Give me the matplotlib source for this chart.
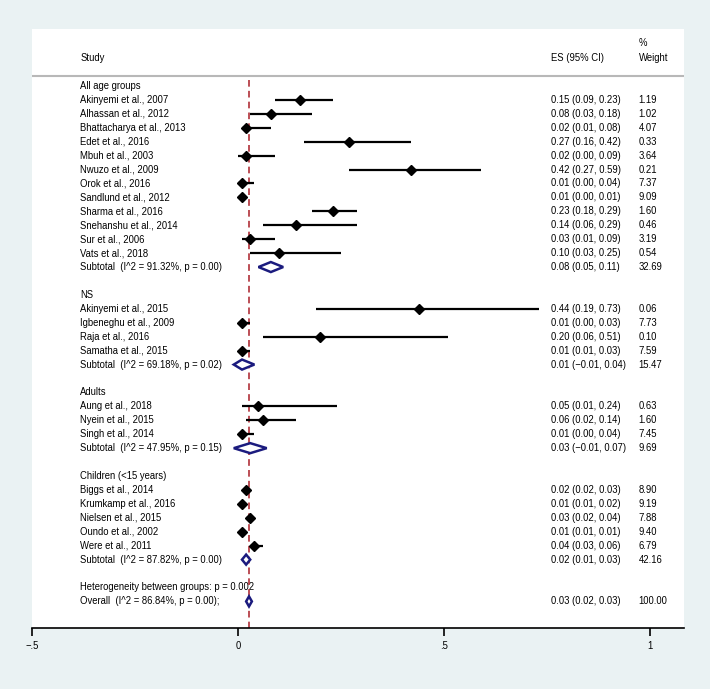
import matplotlib.pyplot as plt
from matplotlib.patches import Polygon

plt.rcParams['font.family'] = ['Liberation Sans', 'DejaVu Sans']

# group headings and the studies in each group
groups = ["All age groups", "NS", "Adults", "Children (<15 years)"]

studies = [
    ["Akinyemi et al., 2007", "Alhassan et al., 2012", "Bhattacharya et al., 2013",
     "Edet et al., 2016", "Mbuh et al., 2003", "Nwuzo et al., 2009", "Orok et al., 2016",
     "Sandlund et al., 2012", "Sharma et al., 2016", "Snehanshu et al., 2014",
     "Sur et al., 2006", "Vats et al., 2018"],
    ["Akinyemi et al., 2015", "Igbeneghu et al., 2009", "Raja et al., 2016",
     "Samatha et al., 2015"],
    ["Aung et al., 2018", "Nyein et al., 2015", "Singh et al., 2014"],
    ["Biggs et al., 2014", "Krumkamp et al., 2016", "Nielsen et al., 2015",
     "Oundo et al., 2002", "Were et al., 2011"],
]
es = [
    [0.15, 0.08, 0.02, 0.27, 0.02, 0.42, 0.01, 0.01, 0.23, 0.14, 0.03, 0.10],
    [0.44, 0.01, 0.20, 0.01],
    [0.05, 0.06, 0.01],
    [0.02, 0.01, 0.03, 0.01, 0.04],
]
lo = [
    [0.09, 0.03, 0.01, 0.16, 0.00, 0.27, 0.00, 0.00, 0.18, 0.06, 0.01, 0.03],
    [0.19, 0.00, 0.06, 0.01],
    [0.01, 0.02, 0.00],
    [0.02, 0.01, 0.02, 0.01, 0.03],
]
hi = [
    [0.23, 0.18, 0.08, 0.42, 0.09, 0.59, 0.04, 0.01, 0.29, 0.29, 0.09, 0.25],
    [0.73, 0.03, 0.51, 0.03],
    [0.24, 0.14, 0.04],
    [0.03, 0.02, 0.04, 0.01, 0.06],
]
weight = [
    [1.19, 1.02, 4.07, 0.33, 3.64, 0.21, 7.37, 9.09, 1.60, 0.46, 3.19, 0.54],
    [0.06, 7.73, 0.10, 7.59],
    [0.63, 1.60, 7.45],
    [8.90, 9.19, 7.88, 9.40, 6.79],
]

# subtotals per group
sub_es = [0.08, 0.01, 0.03, 0.02]
sub_lo = [0.05, -0.01, -0.01, 0.01]
sub_hi = [0.11, 0.04, 0.07, 0.03]
sub_weight = [32.69, 15.47, 9.69, 42.16]
sub_i2 = [91.32, 69.18, 47.95, 87.82]
sub_p = [0.00, 0.02, 0.15, 0.00]

het_p = 0.002
overall_es, overall_lo, overall_hi = 0.027, 0.020, 0.034
overall_i2, overall_p = 86.84, 0.00


def fmt(v):
    return f"{v:.2f}".replace("-", "\u2212")


def ci_text(e, l, h):
    return f"{fmt(e)} ({fmt(l)}, {fmt(h)})"


def add_diamond(ax, e, l, h, row):
    ax.add_patch(Polygon([(l, row), (e, row - 0.36), (h, row), (e, row + 0.36)],
                         closed=True, facecolor='white', edgecolor='#1B1B7E',
                         lw=1.8, zorder=4))


fig = plt.figure(figsize=(7.1, 6.89), dpi=100, facecolor='#EAF2F3')
ax = fig.add_axes([0.045, 0.0885, 0.918, 0.8695])
ax.set_facecolor('white')

X_STUDY, X_ES, X_WT = -0.383, 0.760, 0.973
FS = 6.85

row = 0
for g in range(len(groups)):
    ax.text(X_STUDY, row, groups[g], fontsize=FS, va='center')
    row += 1
    for i in range(len(studies[g])):
        ax.text(X_STUDY, row, studies[g][i], fontsize=FS, va='center')
        ax.plot([lo[g][i], hi[g][i]], [row, row], color='black', lw=1.6,
                solid_capstyle='butt', zorder=3)
        ax.plot(es[g][i], row, marker='D', color='black', markersize=4.8, zorder=4)
        ax.text(X_ES, row, ci_text(es[g][i], lo[g][i], hi[g][i]), fontsize=FS, va='center')
        ax.text(X_WT, row, f"{weight[g][i]:.2f}", fontsize=FS, va='center')
        row += 1
    ax.text(X_STUDY, row, f"Subtotal  (I^2 = {sub_i2[g]:.2f}%, p = {sub_p[g]:.2f})",
            fontsize=FS, va='center')
    add_diamond(ax, sub_es[g], sub_lo[g], sub_hi[g], row)
    ax.text(X_ES, row, ci_text(sub_es[g], sub_lo[g], sub_hi[g]), fontsize=FS, va='center')
    ax.text(X_WT, row, f"{sub_weight[g]:.2f}", fontsize=FS, va='center')
    row += 2

ax.text(X_STUDY, row, f"Heterogeneity between groups: p = {het_p:.3f}", fontsize=FS,
        va='center', zorder=1)
row += 1
ax.text(X_STUDY, row, f"Overall  (I^2 = {overall_i2:.2f}%, p = {overall_p:.2f});",
        fontsize=FS, va='center')
add_diamond(ax, overall_es, overall_lo, overall_hi, row)
ax.text(X_ES, row, ci_text(overall_es, overall_lo, overall_hi), fontsize=FS, va='center')
ax.text(X_WT, row, "100.00", fontsize=FS, va='center')

# header
ax.text(X_STUDY, -2.0, "Study", fontsize=FS, va='center')
ax.text(X_ES, -2.0, "ES (95% CI)", fontsize=FS, va='center')
ax.text(X_WT, -3.1, "%", fontsize=FS, va='center')
ax.text(X_WT, -2.0, "Weight", fontsize=FS, va='center')
ax.axhline(-0.72, color='#B8B8B8', lw=1.5)

ylim_bottom, ylim_top = 38.91, -4.09
ax.plot([overall_es, overall_es], [-0.45, ylim_bottom], color='#B03038', lw=1.2,
        ls=(0, (4, 2.5)), zorder=2)

ax.set_xlim(-0.5, 1.0825)
ax.set_ylim(ylim_bottom, ylim_top)
ax.set_xticks([-0.5, 0, 0.5, 1])
ax.set_xticklabels(["\u2212.5", "0", ".5", "1"])
ax.tick_params(axis='x', direction='out', length=6, width=1.2, labelsize=FS, pad=3)
ax.set_yticks([])
for s in ['left', 'right', 'top']:
    ax.spines[s].set_visible(False)
ax.spines['bottom'].set_linewidth(1.2)

plt.savefig("out.png", dpi=100, facecolor=fig.get_facecolor())
plt.close()
